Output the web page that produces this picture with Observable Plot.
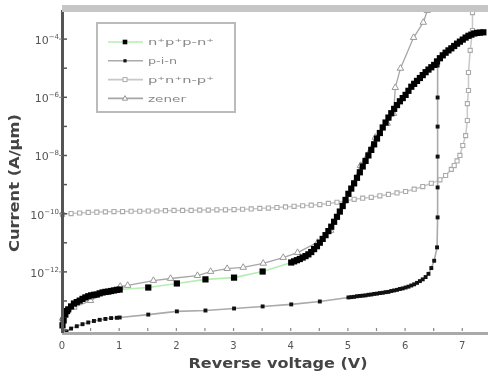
<!DOCTYPE html>
<html><head><meta charset="utf-8">
<script src="https://cdn.jsdelivr.net/npm/d3@7"></script>
<script src="https://cdn.jsdelivr.net/npm/@observablehq/plot@0.6"></script>
<style>
body{margin:0;background:#fff;font-family:"DejaVu Sans",sans-serif}
#chart svg{display:block;filter:blur(0.35px)}
</style>
</head><body><div id="chart"></div>
<script>
// Series names (legend order)
const seriesNames = ["n⁺p⁺p-n⁺", "p-i-n", "p⁺n⁺n-p⁺", "zener"];

// n+p+p-n+ : reverse voltage (V) and log10 current (A/μm)
const voltsA = [0,0.02,0.05,0.08,0.1,0.15,0.2,0.25,0.3,0.35,0.4,0.45,0.5,0.55,0.6,0.65,0.7,0.75,0.8,0.85,0.9,0.95,1.0,
  1.5,2.0,2.5,3.0,3.5,
  4.0,4.05,4.1,4.15,4.2,4.25,4.3,4.35,4.4,4.45,4.5,4.55,4.6,4.65,4.7,4.75,4.8,4.85,4.9,4.95,
  5.0,5.05,5.1,5.15,5.2,5.25,5.3,5.35,5.4,5.45,5.5,5.55,5.6,5.65,5.7,5.75,5.8,5.85,5.9,5.95,
  6.0,6.05,6.1,6.15,6.2,6.25,6.3,6.35,6.4,6.45,6.5,6.55,6.6,6.65,6.7,6.75,6.8,6.85,6.9,6.95,
  7.0,7.05,7.1,7.15,7.2,7.25,7.3,7.36];
const logCurrentA = [-13.82,-13.65,-13.45,-13.33,-13.27,-13.17,-13.07,-13.02,-12.97,-12.91,-12.86,-12.82,-12.79,-12.77,-12.76,-12.72,-12.69,-12.67,-12.66,-12.64,-12.62,-12.60,-12.59,
  -12.52,-12.38,-12.24,-12.18,-11.97,
  -11.66,-11.62,-11.58,-11.54,-11.49,-11.44,-11.38,-11.30,-11.20,-11.10,-10.98,-10.85,-10.72,-10.58,-10.43,-10.26,-10.09,-9.91,-9.72,-9.51,
  -9.30,-9.12,-8.94,-8.75,-8.56,-8.36,-8.17,-7.98,-7.79,-7.60,-7.40,-7.21,-7.02,-6.85,-6.68,-6.53,-6.38,-6.25,-6.12,-6.01,
  -5.90,-5.76,-5.62,-5.52,-5.42,-5.32,-5.22,-5.12,-5.03,-4.95,-4.87,-4.75,-4.64,-4.54,-4.45,-4.37,-4.30,-4.22,-4.14,-4.07,
  -4.00,-3.93,-3.87,-3.83,-3.79,-3.77,-3.76,-3.75];

// p-i-n
const voltsB = [0.07,0.15,0.25,0.35,0.45,0.55,0.65,0.75,0.85,0.95,1.0,1.5,2.0,2.5,3.0,3.5,4.0,4.5,
  5.0,5.05,5.1,5.15,5.2,5.25,5.3,5.35,5.4,5.45,5.5,5.55,5.6,5.65,5.7,5.75,5.8,5.85,5.9,5.95,
  6.0,6.05,6.1,6.15,6.2,6.25,6.3,6.35,6.4,6.45,6.5,6.55,
  6.56,6.56,6.56,6.56,6.56,6.56];
const logCurrentB = [-14.03,-13.93,-13.85,-13.78,-13.72,-13.67,-13.63,-13.60,-13.57,-13.56,-13.55,-13.45,-13.34,-13.31,-13.24,-13.17,-13.10,-13.00,
  -12.86,-12.85,-12.84,-12.82,-12.81,-12.80,-12.79,-12.77,-12.76,-12.74,-12.73,-12.71,-12.70,-12.68,-12.67,-12.64,-12.62,-12.60,-12.57,-12.55,
  -12.52,-12.49,-12.45,-12.41,-12.36,-12.30,-12.24,-12.16,-12.05,-11.85,-11.60,-11.14,
  -10.11,-9.08,-8.02,-6.99,-5.99,-4.89];

// p+n+n-p+
const voltsC = [0,0.15,0.3,0.45,0.6,0.75,0.9,1.05,1.2,1.35,1.5,1.65,1.8,1.95,2.1,2.25,2.4,2.55,2.7,2.85,3.0,
  3.15,3.3,3.45,3.6,3.75,3.9,4.05,4.2,4.35,4.5,4.65,4.8,4.95,5.1,5.25,5.4,5.55,5.7,5.85,6.0,6.15,6.3,6.45,
  6.6,6.7,6.8,6.85,6.9,6.95,7.0,7.05,7.08,7.08,7.1,7.1,7.13,7.17,7.17];
const logCurrentC = [-10.01,-9.98,-9.96,-9.94,-9.93,-9.92,-9.91,-9.91,-9.90,-9.90,-9.89,-9.89,-9.88,-9.87,-9.87,-9.87,-9.86,-9.86,-9.85,-9.85,-9.84,
  -9.83,-9.82,-9.80,-9.79,-9.77,-9.75,-9.73,-9.71,-9.69,-9.67,-9.63,-9.59,-9.55,-9.49,-9.45,-9.42,-9.37,-9.32,-9.27,-9.22,-9.14,-9.05,-8.94,
  -8.82,-8.67,-8.46,-8.33,-8.17,-7.98,-7.64,-7.30,-6.78,-6.20,-5.75,-5.13,-4.37,-3.69,-3.07];

// zener
const voltsD = [0,0.2,0.49,0.75,1.01,1.14,1.59,1.89,2.36,2.59,2.88,3.16,3.51,3.86,4.11,4.46,4.69,4.95,
  5.21,5.47,5.68,5.79,5.82,5.91,6.14,6.31,6.38];
const logCurrentD = [-13.58,-13.2,-12.97,-12.7,-12.48,-12.45,-12.28,-12.21,-12.11,-11.97,-11.87,-11.83,-11.69,-11.49,-11.32,-10.97,-10.56,-9.53,
  -8.33,-7.36,-6.88,-6.54,-5.65,-4.99,-3.93,-3.41,-3.0];

// Axis ticks
const xTickLabels = [0,1,2,3,4,5,6,7];
const xMinorTicks = [0.5,1,1.5,2,2.5,3,3.5,4,4.5,5,5.5,6,6.5,7];
const yTickExponents = [-4,-6,-8,-10,-12];
const yMinorExponents = [-4,-5,-6,-7,-8,-9,-10,-11,-12,-13,-14];

const mk = (v, l, s) => v.map((x, i) => ({series: s, V: x, I: 10 ** l[i]}));
const A = mk(voltsA, logCurrentA, seriesNames[0]);
const B = mk(voltsB, logCurrentB, seriesNames[1]);
const C = mk(voltsC, logCurrentC, seriesNames[2]);
const D = mk(voltsD, logCurrentD, seriesNames[3]);

const yDomain = [10 ** -14.1, 1e-3];
const FONT = "DejaVu Sans, sans-serif";

const plot = Plot.plot({
  width: 490, height: 375,
  marginLeft: 62, marginRight: 2, marginTop: 10, marginBottom: 42,
  style: {background: "#fff", fontFamily: FONT},
  x: {domain: [0, 7.45], axis: null},
  y: {type: "log", domain: yDomain, axis: null},
  marks: [
    Plot.line(C, {x: "V", y: "I", stroke: "#c8c8c8", strokeWidth: 1.5}),
    Plot.dot(C, {x: "V", y: "I", symbol: "square", r: 2.3, stroke: "#aaa", fill: "#fff", strokeWidth: 1.1}),
    Plot.line(D, {x: "V", y: "I", stroke: "#a6a6a6", strokeWidth: 1.3}),
    Plot.dot(D, {x: "V", y: "I", symbol: "triangle", r: 2.4, stroke: "#999", fill: "#fff", strokeWidth: 1}),
    Plot.line(B, {x: "V", y: "I", stroke: "#aaa", strokeWidth: 1.6}),
    Plot.dot(B, {x: "V", y: "I", symbol: "square", r: 2.2, fill: "#111"}),
    Plot.line(A, {x: "V", y: "I", stroke: "#b4eeb0", strokeWidth: 1.6}),
    Plot.dot(A, {x: "V", y: "I", symbol: "square", r: 3.5, fill: "#000"}),
    Plot.ruleY([yDomain[0]], {stroke: "#aaa", strokeWidth: 3}),
    Plot.ruleX([0], {stroke: "#555", strokeWidth: 3}),
    Plot.ruleY([yDomain[1]], {stroke: "#c6c6c6", strokeWidth: 7, dy: -2})
  ]
});

document.getElementById("chart").appendChild(plot);

const xs = plot.scale("x"), ys = plot.scale("y");
const svg = d3.select(plot);
const g = svg.append("g").attr("font-family", FONT);
const x0 = xs.apply(0), yb = ys.apply(yDomain[0]);

// y minor ticks (inward)
g.selectAll("line.ym").data(yMinorExponents).join("line").attr("class", "ym")
  .attr("x1", x0).attr("x2", x0 + 5)
  .attr("y1", d => ys.apply(10 ** d)).attr("y2", d => ys.apply(10 ** d))
  .attr("stroke", "#555").attr("stroke-width", 1.5);
// y major ticks (outward)
g.selectAll("line.yM").data(yTickExponents).join("line").attr("class", "yM")
  .attr("x1", x0 - 3).attr("x2", x0)
  .attr("y1", d => ys.apply(10 ** d)).attr("y2", d => ys.apply(10 ** d))
  .attr("stroke", "#888").attr("stroke-width", 1);
// y tick labels 10^n
const yl = g.selectAll("text.yl").data(yTickExponents).join("text").attr("class", "yl")
  .attr("x", x0 - 3).attr("y", d => ys.apply(10 ** d) + 5)
  .attr("text-anchor", "end").attr("font-size", 11).attr("fill", "#555");
yl.append("tspan").text("10");
yl.append("tspan").attr("dy", -5).attr("font-size", 7).text(d => "−" + (-d));

// x ticks
g.selectAll("line.xt").data(xMinorTicks).join("line").attr("class", "xt")
  .attr("x1", d => xs.apply(d)).attr("x2", d => xs.apply(d))
  .attr("y1", yb - 2).attr("y2", yb - 5)
  .attr("stroke", "#888").attr("stroke-width", 1.2);
g.selectAll("text.xl").data(xTickLabels).join("text").attr("class", "xl")
  .attr("x", d => xs.apply(d)).attr("y", yb + 16)
  .attr("text-anchor", "middle").attr("font-size", 10).attr("fill", "#555")
  .text(d => d);

// axis titles
g.append("text").attr("x", 278).attr("y", 368).attr("text-anchor", "middle")
  .attr("font-size", 14).attr("font-weight", "bold").attr("fill", "#444")
  .attr("textLength", 179).attr("lengthAdjust", "spacingAndGlyphs")
  .text("Reverse voltage (V)");
g.append("text").attr("transform", "translate(19,183) rotate(-90)").attr("text-anchor", "middle")
  .attr("font-size", 13.5).attr("font-weight", "bold").attr("fill", "#444")
  .attr("textLength", 138).attr("lengthAdjust", "spacingAndGlyphs")
  .text("Current (A/μm)");

// legend
const lg = g.append("g");
lg.append("rect").attr("x", 97).attr("y", 23).attr("width", 138).attr("height", 89)
  .attr("fill", "#fff").attr("stroke", "#bbb").attr("stroke-width", 2);
const legendRows = [
  {w: 66, line: "#b4eeb0", draw: s => s.append("rect").attr("x", -2.3).attr("y", -2.3).attr("width", 4.6).attr("height", 4.6).attr("fill", "#000")},
  {w: 29, line: "#aaa", draw: s => s.append("rect").attr("x", -1.6).attr("y", -1.6).attr("width", 3.2).attr("height", 3.2).attr("fill", "#111")},
  {w: 66, line: "#c8c8c8", draw: s => s.append("rect").attr("x", -2).attr("y", -2).attr("width", 4).attr("height", 4).attr("fill", "#fff").attr("stroke", "#aaa")},
  {w: 38, line: "#a6a6a6", draw: s => s.append("path").attr("d", "M0,-2.8L2.6,1.8L-2.6,1.8Z").attr("fill", "#fff").attr("stroke", "#999")}
];
legendRows.forEach((r, i) => {
  const y = 42 + i * 18.8;
  lg.append("line").attr("x1", 108).attr("x2", 143).attr("y1", y).attr("y2", y)
    .attr("stroke", r.line).attr("stroke-width", 1.6);
  r.draw(lg.append("g").attr("transform", `translate(125,${y})`));
  lg.append("text").attr("x", 148).attr("y", y + 3.2).attr("text-anchor", "start")
    .attr("font-size", 9).attr("fill", "#888")
    .attr("textLength", r.w).attr("lengthAdjust", "spacingAndGlyphs")
    .text(seriesNames[i]);
});
</script>
</body></html>
